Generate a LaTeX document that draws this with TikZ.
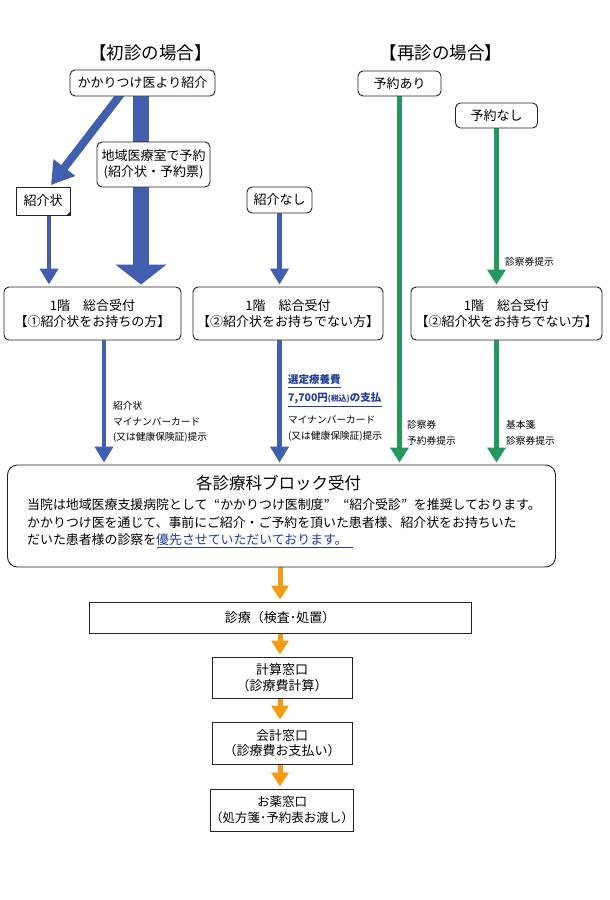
\documentclass[tikz,border=0pt]{standalone}
\usepackage{fontspec}
\setmainfont{Noto Sans CJK JP}
\usetikzlibrary{arrows.meta,calc}
\pgfdeclarelayer{back}
\pgfdeclarelayer{bg}
\pgfsetlayers{back,bg,main}
\definecolor{cblue}{HTML}{415FAE}
\definecolor{cgreen}{HTML}{23995C}
\definecolor{corange}{HTML}{F39C12}
\definecolor{clink}{HTML}{1F3F99}
\definecolor{cedge}{HTML}{222222}
\newcommand\fsA{\fontsize{13}{15.5}\selectfont}
\newcommand\fsS{\fontsize{9.7}{12}\selectfont}
\newcommand\fsL{\fontsize{10.5}{12}\selectfont}
\newcommand\fsT{\fontsize{17.5}{20}\selectfont}
\newcommand\fsB{\fontsize{16.5}{20}\selectfont}
\newcommand\fsM{\fontsize{12.9}{17.5}\selectfont}
\newcommand\oq{\makebox[1em][r]{“}}
\newcommand\cq{\makebox[1em][l]{”}}
\tikzset{
  rbox/.style={draw=cedge, rounded corners=5pt, fill=white, line width=0.9pt, inner sep=0pt, font=\fsA, align=center},
  sbox/.style={draw=cedge, fill=white, line width=0.9pt, inner sep=0pt, font=\fsA, align=center},
  lab/.style={font=\fsS, anchor=west, inner sep=0pt, align=left},
  linklab/.style={font=\fsL\bfseries, text=clink, anchor=west, inner sep=0pt, align=left},
  tb/.style={cblue, line width=4.5pt, -{Triangle[width=18pt,length=16pt]}},
  gr/.style={cgreen, line width=4.5pt, -{Triangle[width=18pt,length=15pt]}},
  orr/.style={corange, line width=5pt, -{Triangle[width=17pt,length=14pt]}}
}
\begin{document}
\begin{tikzpicture}[x=1pt,y=-1pt]
\useasboundingbox (0,0) rectangle (610,900);
\begin{pgfonlayer}{back}
\fill[white] (0,0) rectangle (610,900);
\end{pgfonlayer}
% titles
\node[font=\fsT, inner sep=0pt] (t1) at (150.5,53) {【初診の場合】};
\node[font=\fsT, inner sep=0pt] (t2) at (441,53) {【再診の場合】};
% top boxes
\node[rbox, minimum width=145pt, minimum height=26pt] (A) at (142.5,83) {かかりつけ医より紹介};
\node[rbox, minimum width=83pt, minimum height=25pt] (ari) at (399.5,83.5) {予約あり};
\node[rbox, minimum width=82pt, minimum height=25pt] (nashi2) at (496.5,115.5) {予約なし};
\node[rbox, minimum width=113pt, minimum height=45pt] (chiiki) at (153.5,164.5) {地域医療室で予約\\(紹介状・予約票)};
\node[sbox, minimum width=54pt, minimum height=28pt] (shokai) at (43,201) {紹介状};
\fill[cedge] ($(shokai.south east)+(-4,0)$) -- ($(shokai.south east)+(0,-4)$) -- (shokai.south east) -- cycle;
\node[rbox, minimum width=65pt, minimum height=26pt] (nashi) at (279.5,200) {紹介なし};
% reception boxes
\node[rbox, minimum width=177pt, minimum height=53pt] (R1) at (92.5,313.5) {1階　総合受付\\【①紹介状をお持ちの方】};
\node[rbox, minimum width=190pt, minimum height=53pt] (R2) at (288,313.5) {1階　総合受付\\【②紹介状をお持ちでない方】};
\node[rbox, minimum width=191pt, minimum height=53pt] (R3) at (506.5,313.5) {1階　総合受付\\【②紹介状をお持ちでない方】};
% big box
\node[rbox, rounded corners=10pt, minimum width=548pt, minimum height=102pt] (big) at (281.5,516) {};
\node[font=\fsB, inner sep=0pt] (bigt) at (278.5,483) {各診療科ブロック受付};
\node[font=\fsM, anchor=west, inner sep=0pt] (b1) at (27,505) {当院は地域医療支援病院として\oq かかりつけ医制度\cq\oq 紹介受診\cq を推奨しております。};
\node[font=\fsM, anchor=west, inner sep=0pt] (b2) at (27,522.5) {かかりつけ医を通じて、事前にご紹介・ご予約を頂いた患者様、紹介状をお持ちいた};
\node[font=\fsM, anchor=west, inner sep=0pt] (b3) at (27,540) {だいた患者様の診察を\textcolor{clink}{優先させていただいております。}};
\draw[clink, line width=0.7pt] ($(b3.south west)+(130,1.5)$) -- ($(b3.south east)+(5,1.5)$);
% lower boxes
\node[sbox, minimum width=382pt, minimum height=31pt] (shin) at (280,617.5) {診療（検査･処置）};
\node[sbox, minimum width=140pt, minimum height=41pt] (keisan) at (282,677.5) {計算窓口\\（診療費計算）};
\node[sbox, minimum width=140pt, minimum height=42pt] (kaikei) at (282,743) {会計窓口\\（診療費お支払い）};
\node[sbox, minimum width=140pt, minimum height=42pt, font=\fontsize{12.5}{15.5}\selectfont] (kusuri) at (282,810) {お薬窓口\\（処方箋･予約表お渡し）};
% labels
\node[lab] (l1a) at (113,406) {紹介状};
\node[lab] (l1b) at (113,422) {マイナンバーカード};
\node[lab] (l1c) at (113,437.5) {(又は健康保険証)提示};
\node[linklab] (l2a) at (288,380) {選定療養費};
\node[linklab] (l2b) at (288,398) {7,700円{\fontsize{7.8}{9}\selectfont(税込)}の支払};
\draw[clink, line width=0.7pt] ($(l2a.south west)+(0,2)$) -- ($(l2a.south east)+(0,2)$);
\draw[clink, line width=0.7pt] ($(l2b.south west)+(0,2)$) -- ($(l2b.south east)+(0,2)$);
\node[lab] (l2c) at (288,420) {マイナンバーカード};
\node[lab] (l2d) at (288,436) {(又は健康保険証)提示};
\node[lab] (l3a) at (407,425) {診察券};
\node[lab] (l3b) at (407,440.5) {予約券提示};
\node[lab] (l4a) at (506,425) {基本箋};
\node[lab] (l4b) at (506,440.5) {診察券提示};
\node[lab] (l5) at (505,262) {診察券提示};
% connectors
\coordinate (xs) at (49,0);
\coordinate (xt) at (141,0);
\coordinate (x1) at (104,0);
\coordinate (xo) at (280,0);
\coordinate (dstart) at (124,90);
\coordinate (dtip) at (51,185);
\begin{pgfonlayer}{bg}
\draw[cblue, line width=16pt, -{Triangle[width=50pt,length=20pt]}] (A.south -| xt) -- ([yshift=2pt]R1.north -| xt);
\draw[cblue, line width=8pt, -{Triangle[width=26pt,length=22pt]}] (dstart) -- (dtip);
\draw[tb] (shokai.south -| xs) -- ([yshift=2pt]R1.north -| xs);
\draw[tb] (nashi.south) -- ([yshift=2pt]R2.north -| nashi.south);
\draw[tb] (R1.south -| x1) -- ([yshift=2pt]big.north -| x1);
\draw[tb] (R2.south -| nashi.south) -- ([yshift=2pt]big.north -| nashi.south);
\draw[gr] (ari.south) -- ([yshift=2pt]big.north -| ari.south);
\draw[gr] (nashi2.south) -- ([yshift=2pt]R3.north -| nashi2.south);
\draw[gr] (R3.south -| nashi2.south) -- ([yshift=2pt]big.north -| nashi2.south);
\draw[orr] (big.south -| xo) -- ([yshift=2pt]shin.north -| xo);
\draw[orr] (shin.south -| xo) -- ([yshift=2pt]keisan.north -| xo);
\draw[orr] (keisan.south -| xo) -- ([yshift=2pt]kaikei.north -| xo);
\draw[orr] (kaikei.south -| xo) -- ([yshift=2pt]kusuri.north -| xo);
\end{pgfonlayer}
\end{tikzpicture}
\end{document}
